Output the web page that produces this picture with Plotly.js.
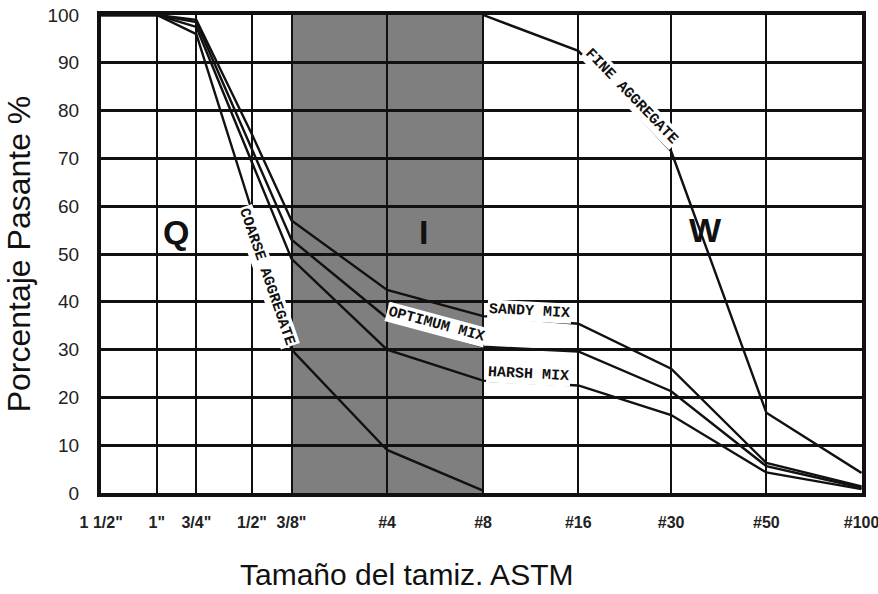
<!DOCTYPE html>
<html>
<head>
<meta charset="utf-8">
<script src="https://cdn.plot.ly/plotly-3.0.1.min.js"></script>
<style>html,body{margin:0;padding:0;background:#fff;}#chart{width:878px;height:594px;}</style>
</head>
<body>
<div id="chart"></div>
<script>
// Sieve openings (mm) and their ASTM names
const sieveSizes = [38.1, 25.4, 19.05, 12.7, 9.525, 4.75, 2.36, 1.18, 0.6, 0.3, 0.15];
const sieveLabels = ['1 1/2"', '1"', '3/4"', '1/2"', '3/8"', '#4', '#8', '#16', '#30', '#50', '#100'];

// Percent passing
const coarseSizes = [38.1, 25.4, 19.05, 12.7, 9.525, 4.75, 2.36];
const coarseAggregate = [100, 100, 96, 59, 30, 9, 0.5];
const harshMix   = [100, 100, 97.5, 69, 49, 30, 23.5, 22.5, 16.3, 4.3, 0.8];
const optimumMix = [100, 100, 98.5, 72, 53, 36.6, 30.6, 29.6, 21.3, 5.6, 1.1];
const sandyMix   = [100, 100, 99, 75, 57, 42.5, 37, 35.4, 26, 6.3, 1.4];
const fineSizes = [2.36, 1.18, 0.6, 0.3, 0.15];
const fineAggregate = [100, 92.5, 71.5, 16.8, 4.2];

// Intermediate zone (3/8" to #8)
const zoneI = [9.525, 2.36];

const lineStyle = {color: '#111', width: 2.4};
const traces = [
  {x: coarseSizes, y: coarseAggregate, name: 'Coarse aggregate'},
  {x: sieveSizes, y: harshMix, name: 'Harsh mix'},
  {x: sieveSizes, y: optimumMix, name: 'Optimum mix'},
  {x: sieveSizes, y: sandyMix, name: 'Sandy mix'},
  {x: fineSizes, y: fineAggregate, name: 'Fine aggregate'}
].map(t => Object.assign(t, {type: 'scatter', mode: 'lines', line: lineStyle, hoverinfo: 'x+y+name'}));

// plot area pixel helpers for label placement (paper coords)
const PL = 101, PR = 862, PT = 15, PB = 493;
const px = v => (v - PL) / (PR - PL);
const py = v => (PB - v) / (PB - PT);

const mono = {family: 'Liberation Mono, DejaVu Sans Mono, monospace', size: 15, color: '#111', weight: 'bold'};
function lab(text, x, y, angle) {
  return {text: text, xref: 'paper', yref: 'paper', x: px(x), y: py(y), showarrow: false,
          textangle: angle, font: mono, bgcolor: '#fff', borderpad: 1, xanchor: 'center', yanchor: 'middle'};
}
const big = {family: 'Liberation Sans, Arial, sans-serif', size: 34, color: '#111', weight: 'bold'};
function zone(text, x, y) {
  return {text: '<b>' + text + '</b>', xref: 'paper', yref: 'paper', x: px(x), y: py(y), showarrow: false,
          font: big, xanchor: 'center', yanchor: 'middle'};
}

const layout = {
  width: 878, height: 594,
  margin: {l: PL, r: 878 - PR, t: PT, b: 594 - PB},
  paper_bgcolor: '#fff', plot_bgcolor: '#fff',
  showlegend: false,
  xaxis: {
    type: 'log',
    range: [Math.log10(sieveSizes[0]) + 0.0005, Math.log10(sieveSizes[sieveSizes.length - 1]) - 0.0015],
    tickmode: 'array', tickvals: sieveSizes, ticktext: sieveLabels,
    showgrid: true, gridcolor: '#111', gridwidth: 2,
    showline: true, linecolor: '#111', linewidth: 4, mirror: true,
    ticks: '', ticklabelstandoff: 12, automargin: false, ticklabeloverflow: 'allow',
    tickfont: {family: 'Liberation Sans, Arial, sans-serif', size: 16, color: '#222', weight: 'bold'},
    zeroline: false, fixedrange: true
  },
  yaxis: {
    range: [0, 100], dtick: 10, tick0: 0,
    showgrid: true, gridcolor: '#111', gridwidth: 3,
    showline: true, linecolor: '#111', linewidth: 4, mirror: true,
    ticks: '', ticklabelstandoff: 14, automargin: false,
    tickfont: {family: 'Liberation Sans, Arial, sans-serif', size: 19, color: '#222'},
    title: {text: 'Porcentaje Pasante %', font: {family: 'Liberation Sans, Arial, sans-serif', size: 32, color: '#111'}, standoff: 8},
    zeroline: false, fixedrange: true
  },
  shapes: [
    {type: 'rect', xref: 'x', yref: 'paper', x0: zoneI[0], x1: zoneI[1], y0: 0, y1: 1,
     fillcolor: '#7f7f7f', line: {width: 0}, layer: 'below'}
  ],
  annotations: [
    zone('Q', 176, 232), zone('I', 423, 232), zone('W', 705, 230),
    lab('COARSE AGGREGATE', 266, 277, 71),
    lab('FINE AGGREGATE', 631, 97, 46),
    lab('SANDY MIX', 529, 311, 3),
    lab('OPTIMUM MIX', 436, 324, 15),
    lab('HARSH MIX', 528, 374, 3),
    {text: 'Tamaño del tamiz. ASTM', xref: 'paper', yref: 'paper', x: px(406), y: py(574),
     showarrow: false, xanchor: 'center', yanchor: 'middle',
     font: {family: 'Liberation Sans, Arial, sans-serif', size: 30, color: '#111'}}
  ]
};

Plotly.newPlot('chart', traces, layout, {displayModeBar: false, staticPlot: true});
</script>
</body>
</html>
